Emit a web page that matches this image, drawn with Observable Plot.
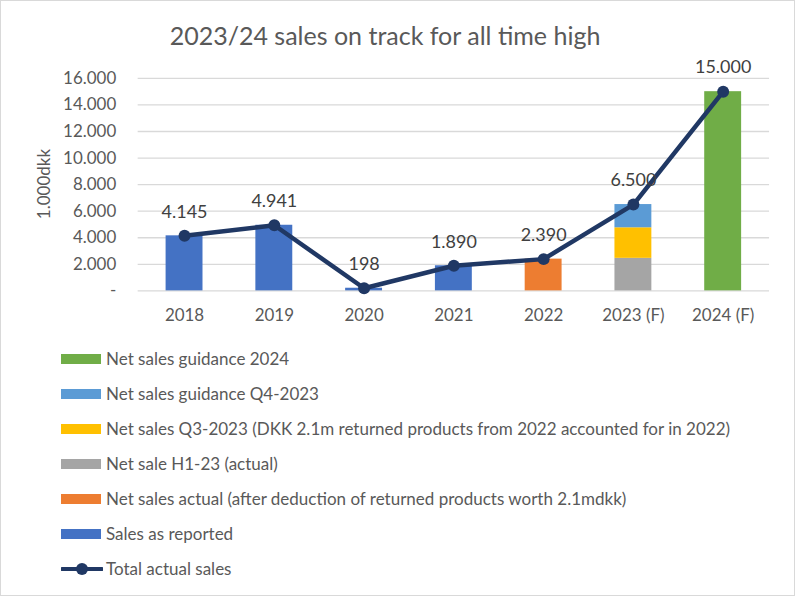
<!DOCTYPE html>
<html>
<head>
<meta charset="utf-8">
<script src="https://cdn.jsdelivr.net/npm/d3@7"></script>
<script src="https://cdn.jsdelivr.net/npm/@observablehq/plot@0.6"></script>
<style>
  html, body { margin: 0; padding: 0; background: #fff; }
  #frame { position: relative; width: 795px; height: 596px; box-sizing: border-box; border: 1px solid #d9d9d9; overflow: hidden; font-family: Lato, "Open Sans", sans-serif; }
  #title { position: absolute; left: 0; width: 768px; top: 19px; text-align: center; font-size: 25px; color: #595959; }
  #chart { position: absolute; left: 0; top: 40px; }
  #ylabel { position: absolute; left: 42px; top: 183px; transform: translate(-50%, -50%) rotate(-90deg); font-size: 17px; color: #595959; white-space: nowrap; }
  #legend { position: absolute; left: 60px; top: 340px; }
  .item { height: 35px; display: flex; align-items: center; font-size: 17px; color: #595959; white-space: nowrap; }
  .sw { width: 40px; height: 10px; margin-right: 5px; flex: none; }
  .lsw { width: 42px; height: 14px; margin-right: 3px; flex: none; }
</style>
</head>
<body>
<div id="frame">
  <div id="title">2023/24 sales on track for all time high</div>
  <div id="chart"></div>
  <div id="ylabel">1.000dkk</div>
  <div id="legend"></div>
</div>
<script>
const years = ["2018", "2019", "2020", "2021", "2022", "2023 (F)", "2024 (F)"];
const totals = [4145, 4941, 198, 1890, 2390, 6500, 15000];

const seriesNames = [
  "Sales as reported",
  "Net sales actual (after deduction of returned products worth 2.1mdkk)",
  "Net sale H1-23 (actual)",
  "Net sales Q3-2023 (DKK 2.1m returned products from 2022 accounted for in 2022)",
  "Net sales guidance Q4-2023",
  "Net sales guidance 2024"
];
const seriesColors = ["#4472C4", "#ED7D31", "#A5A5A5", "#FFC000", "#5B9BD5", "#70AD47"];
const lineName = "Total actual sales";
const lineColor = "#203864";

// bar segments: year, series index, value
const segYears = ["2018", "2019", "2020", "2021", "2022", "2023 (F)", "2023 (F)", "2023 (F)", "2024 (F)"];
const segSeries = [0, 0, 0, 0, 1, 2, 3, 4, 5];
const segValues = [4145, 4941, 198, 1890, 2390, 2450, 2300, 1750, 15000];

const yTicks = [0, 2000, 4000, 6000, 8000, 10000, 12000, 14000, 16000];

const segs = segYears.map((y, i) => ({year: y, series: seriesNames[segSeries[i]], value: segValues[i]}));
const pts = years.map((y, i) => ({year: y, value: totals[i]}));
const fmt = d => d === 0 ? "-" : d3.format(",")(d).replace(/,/g, ".");

const chart = Plot.plot({
  width: 795,
  height: 295,
  marginLeft: 137,
  marginRight: 25,
  marginTop: 37,
  marginBottom: 45,
  style: {fontFamily: "Lato, 'Open Sans', sans-serif", fontSize: "17px", color: "#595959", background: "transparent", overflow: "visible"},
  x: {domain: years, paddingInner: 0.59, paddingOuter: 0.295, label: null, tickSize: 0, tickPadding: 18},
  y: {domain: [0, 16000], ticks: yTicks, tickFormat: fmt, label: null, tickSize: 0, tickPadding: 22},
  color: {domain: seriesNames, range: seriesColors},
  marks: [
    Plot.gridY(yTicks, {stroke: "#d9d9d9", strokeOpacity: 1, strokeWidth: 1.3}),
    Plot.barY(segs, {x: "year", y: "value", fill: "series"}),
    Plot.line(pts, {x: "year", y: "value", stroke: lineColor, strokeWidth: 4.5}),
    Plot.dot(pts, {x: "year", y: "value", fill: lineColor, r: 6}),
    Plot.text(pts, {x: "year", y: "value", text: d => fmt(d.value), dy: -24, fontSize: 18, fill: "#404040"})
  ]
});
document.getElementById("chart").appendChild(chart);

const legend = document.getElementById("legend");
const order = [5, 4, 3, 2, 1, 0];
for (const i of order) {
  const it = document.createElement("div");
  it.className = "item";
  it.innerHTML = `<div class="sw" style="background:${seriesColors[i]}"></div><span>${seriesNames[i]}</span>`;
  legend.appendChild(it);
}
const li = document.createElement("div");
li.className = "item";
li.innerHTML = `<svg class="lsw" width="42" height="14"><line x1="1" x2="41" y1="7" y2="7" stroke="${lineColor}" stroke-width="4" stroke-linecap="round"/><circle cx="21" cy="7" r="6" fill="${lineColor}"/></svg><span>${lineName}</span>`;
legend.appendChild(li);
</script>
</body>
</html>
